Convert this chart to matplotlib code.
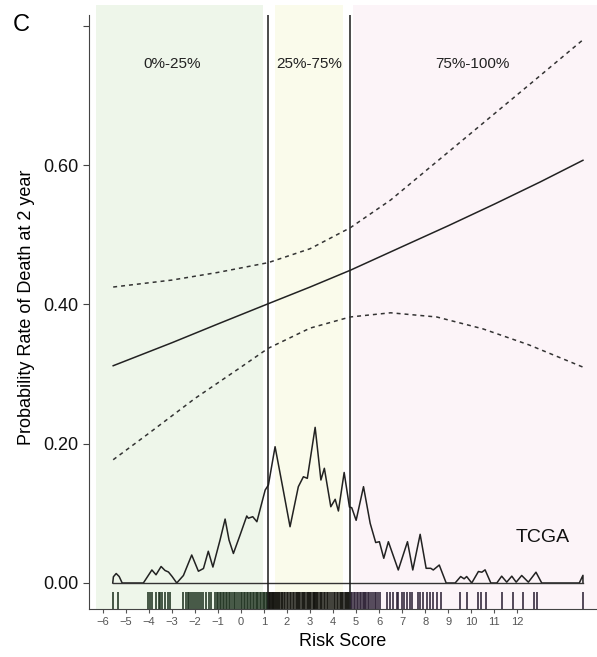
"""Nomogram-style risk curve with density and rug (TCGA)."""

import matplotlib
matplotlib.use("Agg")
import matplotlib.pyplot as plt
import numpy as np

plt.rcParams["font.family"] = ["Liberation Sans", "DejaVu Sans"]

# quantile cut points of the risk score
q25, q75 = 1.18, 4.74

# fitted probability and 95% band
fit_x = [-5.55, -3, -1, 1.18, 3, 4.74, 7, 9, 11, 13, 14.85]
fit_y = [0.312, 0.345, 0.372, 0.401, 0.425, 0.449, 0.483, 0.513, 0.544, 0.576, 0.607]
upper_x = [-5.55, -3, -1, 1.18, 3, 4.74, 6.5, 8.5, 10.5, 12.5, 14.85]
upper_y = [0.425, 0.435, 0.446, 0.460, 0.480, 0.510, 0.550, 0.605, 0.660, 0.715, 0.780]
lower_x = [-5.55, -4, -2, 0, 1.18, 3, 4.74, 6.5, 8.5, 10.5, 12.5, 14.85]
lower_y = [0.177, 0.215, 0.265, 0.310, 0.337, 0.366, 0.382, 0.388, 0.382, 0.365, 0.342, 0.310]

# density of the risk score (drawn on probability scale)
dens_x = [-5.57, -5.54, -5.42, -5.29, -5.16, -4.24, -3.87, -3.69, -3.47, -3.30, -3.15,
          -2.99, -2.79, -2.50, -2.14, -1.85, -1.63, -1.42, -1.22, -0.91, -0.69, -0.52,
          -0.33, -0.04, 0.25, 0.32, 0.51, 0.69, 1.05, 1.19, 1.48, 1.82, 2.13, 2.49,
          2.71, 2.88, 3.22, 3.47, 3.62, 3.90, 4.09, 4.23, 4.48, 4.71, 4.81, 5.00, 5.32,
          5.61, 5.85, 6.01, 6.20, 6.40, 6.83, 7.23, 7.46, 7.78, 8.04, 8.24, 8.35, 8.61,
          8.91, 9.30, 9.54, 9.69, 9.80, 10.02, 10.31, 10.46, 10.60, 10.85, 11.11, 11.32,
          11.54, 11.76, 11.95, 12.19, 12.48, 12.81, 13.06, 14.69, 14.85, 14.85]
dens_y = [0.0, 0.009, 0.0136, 0.0093, 0.0, 0.0, 0.0187, 0.0118, 0.0237, 0.018, 0.0158,
          0.0093, 0.0, 0.0108, 0.0402, 0.0169, 0.0208, 0.0456, 0.0229, 0.0617, 0.0918,
          0.0617, 0.0424, 0.0689, 0.0962, 0.093, 0.0952, 0.088, 0.1335, 0.1407, 0.1957,
          0.136, 0.0808, 0.1383, 0.1526, 0.1503, 0.2235, 0.1479, 0.1647, 0.1095, 0.1202,
          0.1034, 0.1587, 0.1091, 0.1081, 0.09, 0.1383, 0.0857, 0.0581, 0.0593, 0.0355,
          0.0593, 0.0187, 0.0593, 0.0187, 0.0699, 0.0211, 0.0211, 0.0187, 0.0258, 0.0,
          0.0, 0.0093, 0.006, 0.0093, 0.0, 0.0165, 0.0155, 0.0189, 0.0, 0.0, 0.0098,
          0.0012, 0.0098, 0.0012, 0.0108, 0.0012, 0.0155, 0.0, 0.0, 0.011, 0.0]

# individual risk scores (rug)
risk_scores = [
    -5.57, -5.35, -4.05, -3.95, -3.85, -3.69, -3.57, -3.51, -3.43, -3.29, -3.19, -3.08,
    -2.50, -2.39, -2.31, -2.24, -2.17, -2.07, -2.00, -1.92, -1.82, -1.72, -1.63, -1.52,
    -1.41, -1.31, -1.12, -1.05, -0.98, -0.93, -0.86, -0.80, -0.74, -0.66, -0.60, -0.52,
    -0.46, -0.38, -0.30, -0.24, -0.18, -0.10, -0.02, 0.05, 0.12, 0.18, 0.24, 0.31, 0.38,
    0.44, 0.50, 0.57, 0.63, 0.70, 0.76, 0.82, 0.88, 0.95, 1.01, 1.06, 1.11, 1.15,
    1.20, 1.23, 1.27, 1.30, 1.34, 1.38, 1.41, 1.45, 1.49, 1.53, 1.58, 1.62, 1.67, 1.71,
    1.76, 1.80, 1.86, 1.92, 1.99, 2.05, 2.12, 2.18, 2.24, 2.31, 2.37, 2.42, 2.48, 2.53,
    2.58, 2.63, 2.68, 2.74, 2.79, 2.85, 2.90, 2.96, 3.01, 3.06, 3.11, 3.15, 3.19, 3.23,
    3.27, 3.31, 3.36, 3.41, 3.47, 3.53, 3.60, 3.66, 3.73, 3.80, 3.88, 3.95, 4.03, 4.10,
    4.17, 4.23, 4.29, 4.35, 4.40, 4.45, 4.50, 4.55, 4.60, 4.65, 4.70,
    4.78, 4.84, 4.90, 4.97, 5.03, 5.10, 5.16, 5.22, 5.28, 5.33, 5.38, 5.44, 5.50, 5.57,
    5.64, 5.72, 5.80, 5.88, 5.97, 6.05, 6.33, 6.47, 6.62, 6.76, 6.83, 6.98, 7.08, 7.20,
    7.34, 7.41, 7.70, 7.78, 7.92, 8.07, 8.21, 8.35, 8.50, 8.69, 9.51, 9.80, 10.31, 10.41,
    10.64, 11.32, 11.80, 12.24, 12.74, 12.84, 14.84,
]

band_labels = ["0%-25%", "25%-75%", "75%-100%"]
x_ticks = list(range(-6, 13))
y_ticks = [0.0, 0.2, 0.4, 0.6, 0.8]
y_ticklabels = ["0.00", "0.20", "0.40", "0.60", ""]

fig = plt.figure(figsize=(5.97, 6.57), dpi=100)
ax = fig.add_axes([0.1491, 0.0731, 0.8509, 0.9193])
ax.set_xlim(-6.6, 15.46)
ax.set_ylim(-0.0373, 0.83)
ymin, ymax = ax.get_ylim()

# quantile bands
ax.axvspan(-6.29, 0.95, color="#eef6ea", lw=0, zorder=0)
ax.axvspan(1.48, 4.43, color="#fafbeb", lw=0, zorder=0)
ax.axvspan(4.85, 15.46, color="#fcf4f8", lw=0, zorder=0)
ax.vlines([q25, q75], ymin, 0.815, color="#1a1a1a", lw=1.1, zorder=3)

for label, xc in zip(band_labels, [-3.0, 2.94, 10.05]):
    ax.text(xc, 0.745, label, ha="center", va="center", fontsize=11, color="#222")

# density and baseline
ax.plot(dens_x, dens_y, color="#222", lw=1.1, zorder=2)
ax.plot([min(dens_x), max(dens_x)], [0, 0], color="#333", lw=1.0, zorder=2)

# rug, coloured by band
risk = np.array(risk_scores)
rug_colors = np.where(risk < q25, "#1f3320", np.where(risk < q75, "#151510", "#2e2236"))
ax.vlines(risk, ymin, -0.0125, colors=rug_colors, lw=1.15, zorder=2)

# fitted curve and confidence band
ax.plot(fit_x, fit_y, color="#222", lw=1.1, zorder=4)
ax.plot(upper_x, upper_y, color="#333", lw=1.1, ls=(0, (2.6, 2.6)), zorder=4)
ax.plot(lower_x, lower_y, color="#333", lw=1.1, ls=(0, (2.6, 2.6)), zorder=4)

ax.text(13.1, 0.065, "TCGA", ha="center", va="center", fontsize=14, color="#111")

for side in ["top", "right"]:
    ax.spines[side].set_visible(False)
ax.spines["left"].set_bounds(ymin, 0.815)
ax.spines["left"].set_color("#444")
ax.spines["bottom"].set_color("#444")

ax.set_xticks(x_ticks)
ax.set_xticklabels([str(t).replace("-", "\u2212") for t in x_ticks])
ax.tick_params(axis="x", labelsize=8, colors="#555", length=3, width=0.8, pad=3)
ax.set_yticks(y_ticks)
ax.set_yticklabels(y_ticklabels)
ax.tick_params(axis="y", labelsize=13, colors="#444", labelcolor="#111", length=4, width=0.8)

ax.set_xlabel("Risk Score", fontsize=13, labelpad=4)
ax.set_ylabel("Probability Rate of Death at 2 year", fontsize=13, labelpad=6)

fig.text(0.022, 0.962, "C", fontsize=17, ha="left", va="center")

fig.savefig("out.png", dpi=100)
